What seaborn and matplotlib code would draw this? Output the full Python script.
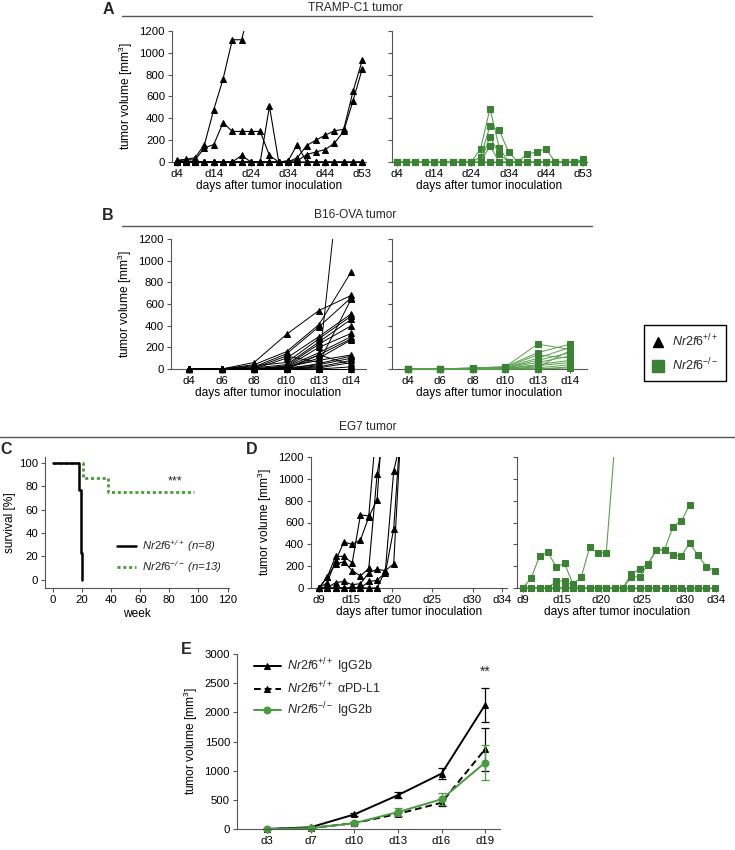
import matplotlib
matplotlib.use('Agg')
import numpy as np
import pandas as pd
import matplotlib.pyplot as plt
import seaborn as sns
from matplotlib.lines import Line2D
from matplotlib.patches import Rectangle

# ---- data ---------------------------------------------------------------
GREEN = '#3b8234'
GREEN_LINE = '#5a9e4f'

# A: TRAMP-C1, 21 measurement points d4..d53
tramp_ticks = ['d4', 'd14', 'd24', 'd34', 'd44', 'd53']
tramp_wt = [
    [15, 25, 40, 160, 480, 760, 1120, 1120, 1450],
    [10, 20, 20, 130, 160, 360, 280, 280, 280, 280, 60, 0],
    [0, 0, 0, 0, 0, 0, 0, 60, 0, 0, 510, 0, 0, 0, 0, 0, 0, 0, 0, 0, 0],
    [0, 0, 0, 0, 0, 0, 0, 0, 0, 0, 0, 0, 0, 40, 150, 200, 246, 286, 300, 646, 935],
    [0, 0, 0, 0, 0, 0, 0, 0, 0, 0, 0, 0, 10, 10, 68, 92, 114, 172, 283, 560, 855],
    [0, 0, 0, 0, 0, 0, 0, 0, 0, 0, 0, 0, 10, 160, 0, 0, 0, 0, 0, 0, 0],
    [0, 0, 0, 0, 0, 0, 0, 0, 0, 0, 0, 0, 0, 0, 0, 0, 0, 0, 0, 0, 0],
]
tramp_ko = [
    [0, 0, 0, 0, 0, 0, 0, 0, 0, 123, 489, 129, 0, 0, 0, 0, 0, 0, 0, 0, 0],
    [0, 0, 0, 0, 0, 0, 0, 0, 0, 46, 329, 289, 92, 0, 0, 0, 0, 0, 0, 0, 0],
    [0, 0, 0, 0, 0, 0, 0, 0, 0, 0, 231, 71, 0, 0, 0, 0, 0, 0, 0, 0, 0],
    [0, 0, 0, 0, 0, 0, 0, 0, 0, 0, 148, 0, 0, 0, 0, 0, 0, 0, 0, 0, 0],
    [0, 0, 0, 0, 0, 0, 0, 0, 0, 0, 0, 0, 0, 0, 74, 92, 120, 0, 0, 0, 25],
]

# B: B16-OVA, days d4 d6 d8 d10 d13 d14
b16_days = ['d4', 'd6', 'd8', 'd10', 'd13', 'd14']
b16_wt = [
    [0, 0, 60, 320, 540, 680],
    [0, 0, 40, 160, 410, 900],
    [0, 0, 20, 140, 390, 660],
    [0, 0, 10, 120, 60, 650],
    [0, 0, 0, 100, 300, 510],
    [0, 0, 30, 60, 280, 490],
    [0, 0, 10, 40, 250, 460],
    [0, 0, 0, 30, 230, 400],
    [0, 0, 0, 20, 200, 330],
    [0, 0, 0, 20, 150, 300],
    [0, 0, 0, 10, 130, 280],
    [0, 0, 0, 10, 100, 270],
    [0, 0, 0, 0, 30, 2800],
    [0, 0, 0, 20, 80, 130],
    [0, 0, 0, 0, 50, 120],
    [0, 0, 0, 10, 40, 100],
    [0, 0, 0, 0, 20, 80],
    [0, 0, 0, 0, 10, 60],
    [0, 0, 0, 0, 130, 40],
    [0, 0, 0, 0, 0, 20],
    [0, 0, 0, 0, 0, 0],
]
b16_ko = [
    [0, 0, 10, 20, 230, 180],
    [0, 0, 10, 20, 150, 230],
    [0, 0, 5, 15, 130, 100],
    [0, 0, 5, 10, 100, 200],
    [0, 0, 0, 10, 80, 150],
    [0, 0, 0, 10, 60, 120],
    [0, 0, 0, 5, 40, 80],
    [0, 0, 0, 5, 30, 60],
    [0, 0, 0, 0, 20, 170],
    [0, 0, 0, 0, 10, 40],
    [0, 0, 0, 0, 0, 20],
    [0, 0, 0, 0, 0, 10],
]

# C: survival (weeks, percent)
surv_wt_t = [0, 18, 19, 20]
surv_wt_p = [100, 77, 23, 0]
surv_ko_t = [0, 20.5, 38, 97]
surv_ko_p = [100, 87, 75, 75]

# D: EG7 tumours
eg7_ticks = ['d9', 'd15', 'd20', 'd25', 'd30', 'd34']
eg7_wt = [
    [0, 100, 290, 290, 230, 670, 660, 1560],
    [0, 50, 250, 420, 400, 440, 650, 810, 1900],
    [0, 100, 220, 240, 160, 110, 180, 1040, 1500],
    [0, 0, 50, 60, 30, 40, 140, 170, 160, 1070, 1400],
    [0, 0, 0, 0, 0, 0, 60, 70, 140, 540, 1650],
    [0, 0, 0, 0, 0, 0, 0, 0, 160, 220, 1620],
    [0, 0, 0, 0, 0, 0, 0, 0],
]
eg7_ko = [
    [0, 91, 292, 326, 195, 225, 37, 97, 371, 323, 323, 1300],
    [0, 0, 0, 0, 61, 67, 20, 0, 0, 0, 0, 0, 0, 0, 0, 0, 0, 0, 0, 0, 0, 0, 0, 0],
    [0, 0, 0, 0, 0, 0, 0, 0, 0, 0, 0, 0, 0, 128, 173, 219, 350, 350, 563, 615, 758],
    [0, 0, 0, 0, 0, 0, 0, 0, 0, 0, 0, 0, 0, 100, 105, 215, 345, 350, 300, 295, 410, 300, 195, 160],
]

# E: mean tumour volume +- SEM
e_days = ['d3', 'd7', 'd10', 'd13', 'd16', 'd19']
wt_igg = [0, 30, 250, 580, 950, 2130]
wt_igg_err = [0, 10, 20, 50, 100, 290]
wt_pdl1 = [0, 15, 100, 260, 450, 1370]
wt_pdl1_err = [0, 5, 15, 30, 60, 370]
ko_igg = [0, 15, 100, 290, 510, 1140]
ko_igg_err = [0, 5, 20, 70, 100, 300]

# ---- style --------------------------------------------------------------
sns.set_style('ticks')
plt.rcParams['font.family'] = ['Liberation Sans', 'DejaVu Sans']
plt.rcParams.update({
    'font.size': 8.6,
    'mathtext.fontset': 'custom',
    'mathtext.rm': 'Liberation Sans',
    'mathtext.it': 'Liberation Sans:italic',
    'mathtext.bf': 'Liberation Sans:bold',
    'mathtext.default': 'regular',
    'axes.edgecolor': '#555555',
    'axes.linewidth': 0.8,
    'axes.labelsize': 8.6,
    'xtick.color': '#555555',
    'ytick.color': '#555555',
    'xtick.labelcolor': 'black',
    'ytick.labelcolor': 'black',
    'axes.labelcolor': 'black',
})

TICK_FS = 8.2
W, H = 735, 850
fig = plt.figure(figsize=(W / 100, H / 100), dpi=100)
WT = r'$\mathit{Nr2f6}^{+/+}$'
KO = r'$\mathit{Nr2f6}^{-/-}$'
YLAB = 'tumor volume [mm$^3$]'
XLAB = 'days after tumor inoculation'


def add_axes(left, top, right, bottom):
    ax = fig.add_axes([left / W, 1 - bottom / H, (right - left) / W, (bottom - top) / H])
    sns.despine(ax=ax)
    ax.tick_params(length=3, width=0.8, labelsize=TICK_FS, pad=2)
    return ax


def spaghetti(ax, traces, marker, color, line_color, lw, ms):
    rows = [(m, i, v) for m, tr in enumerate(traces) for i, v in enumerate(tr)]
    df = pd.DataFrame(rows, columns=['mouse', 'idx', 'volume'])
    sns.lineplot(data=df, x='idx', y='volume', units='mouse', estimator=None,
                 color=line_color, lw=lw, marker=marker, markersize=ms,
                 markerfacecolor=color, markeredgecolor=color,
                 legend=False, ax=ax)
    for ln in ax.lines:
        # clip at the top of the axes only, so markers on y=0 stay whole
        ln.set_clip_path(Rectangle((-0.2, -0.3), 1.4, 1.3, transform=ax.transAxes))
        ln.set_zorder(3)
    ax.set_xlabel('')
    ax.set_ylabel('')


def fig_text(x, y, s, **kw):
    fig.text(x / W, 1 - y / H, s, ha='center', va='center', **kw)


def fig_hline(x0, x1, y):
    fig.add_artist(Line2D([x0 / W, x1 / W], [1 - y / H] * 2, transform=fig.transFigure,
                          color='#555555', lw=1))


# ---- A ------------------------------------------------------------------
fig_text(108, 10, 'A', fontsize=11.5, fontweight='bold')
fig_text(355, 8, 'TRAMP-C1 tumor')
fig_hline(122, 592, 16)
for k, (traces, mk, col, lcol) in enumerate([(tramp_wt, '^', 'black', 'black'),
                                             (tramp_ko, 's', GREEN, GREEN_LINE)]):
    ax = add_axes(172, 31, 366, 162) if k == 0 else add_axes(392, 31, 587, 162)
    spaghetti(ax, traces, mk, col, lcol, 0.8, 4.5 if mk == '^' else 4.3)
    ax.set_xlim(-0.5, 20.4)
    ax.set_ylim(0, 1200)
    ax.set_yticks(range(0, 1201, 200))
    ax.set_xticks(range(0, 21, 4), tramp_ticks)
    ax.set_xlabel(XLAB, labelpad=1)
    if k == 0:
        ax.set_ylabel(YLAB, labelpad=3)
    else:
        ax.tick_params(labelleft=False)

# ---- B ------------------------------------------------------------------
fig_text(108, 215, 'B', fontsize=11.5, fontweight='bold')
fig_text(355, 215, 'B16-OVA tumor')
fig_hline(122, 592, 226)
for k, (traces, mk, col, lcol) in enumerate([(b16_wt, '^', 'black', 'black'),
                                             (b16_ko, 's', GREEN, GREEN_LINE)]):
    ax = add_axes(171, 239, 366, 369) if k == 0 else add_axes(392, 239, 587, 369)
    spaghetti(ax, traces, mk, col, lcol, 0.7, 4.5 if mk == '^' else 4.5)
    ax.set_xlim(-0.56, 5.45) if k == 0 else ax.set_xlim(-0.49, 5.52)
    ax.set_ylim(0, 1200)
    ax.set_yticks(range(0, 1201, 200))
    ax.set_xticks(range(len(b16_days)), b16_days)
    ax.set_xlabel(XLAB, labelpad=1)
    if k == 0:
        ax.set_ylabel(YLAB, labelpad=3)
    else:
        ax.tick_params(labelleft=False)

fig.legend([Line2D([], [], ls='none', marker='^', color='black', ms=7),
            Line2D([], [], ls='none', marker='s', color=GREEN, ms=8)],
           [WT, KO], loc='upper left', bbox_to_anchor=(638 / W, 1 - 319 / H),
           frameon=True, fancybox=False, edgecolor='black', fontsize=9,
           handlelength=1.0, handletextpad=0.6, borderpad=0.6, labelspacing=0.6,
           framealpha=1)

# ---- C ------------------------------------------------------------------
fig_text(368, 427, 'EG7 tumor')
fig_hline(0, 735, 437)
fig_text(6, 450, 'C', fontsize=11.5, fontweight='bold')
ax = add_axes(45, 457, 229, 588)
ax.plot(surv_ko_t, surv_ko_p, drawstyle='steps-post', color='#4a9a3a', lw=2.0,
        ls=(0, (1.1, 1.0)), label=KO + ' (n=13)', clip_on=False, zorder=3)
ax.plot(surv_wt_t, surv_wt_p, drawstyle='steps-post', color='black', lw=1.8,
        label=WT + ' (n=8)', clip_on=False, zorder=4)
ax.set_xlim(-5.5, 121)
ax.set_ylim(-7, 105)
ax.set_xticks(range(0, 121, 20))
ax.set_yticks(range(0, 101, 20))
ax.set_xlabel('week', labelpad=2)
ax.set_ylabel('survival [%]', labelpad=2)
ax.text(84, 84, '***', ha='center', va='center', fontsize=9)
h, l = ax.get_legend_handles_labels()
ax.legend(h[::-1], l[::-1], loc='lower right', bbox_to_anchor=(1.02, 0.02), frameon=False,
          handlelength=1.6, handletextpad=0.6, labelspacing=0.5,
          prop={'style': 'italic', 'size': 8.2})

# ---- D ------------------------------------------------------------------
fig_text(252, 450, 'D', fontsize=11.5, fontweight='bold')
ax = add_axes(311, 457, 507, 588)
spaghetti(ax, eg7_wt, '^', 'black', 'black', 0.8, 4.5)
ax.set_xlim(-0.96, 22.65)
ax.set_ylim(0, 1200)
ax.set_yticks(range(0, 1201, 200))
ax.set_xticks([0, 3.8, 8.8, 13.6, 18.5, 22], eg7_ticks)
ax.set_ylabel(YLAB, labelpad=3)
ax.set_xlabel(XLAB, labelpad=1)

ax = add_axes(517, 457, 718, 588)
spaghetti(ax, eg7_ko, 's', GREEN, GREEN_LINE, 0.8, 4.3)
ax.set_xlim(-0.7, 23.4)
ax.set_ylim(0, 1200)
ax.set_yticks(range(0, 1201, 200))
ax.set_xticks([0, 4.75, 9.4, 14.3, 19.4, 23.2], eg7_ticks)
ax.tick_params(labelleft=False)
ax.set_xlabel(XLAB, labelpad=1)

# ---- E ------------------------------------------------------------------
fig_text(186, 650, 'E', fontsize=11.5, fontweight='bold')
ax = add_axes(237, 654, 500, 829)
xpos = np.arange(len(e_days))
groups = [
    (wt_igg, wt_igg_err, 'black', '^', '-', WT + ' IgG2b'),
    (wt_pdl1, wt_pdl1_err, 'black', '^', (0, (3.5, 2)), WT + r' $\alpha$PD-L1'),
    (ko_igg, ko_igg_err, '#4a9a3f', 'o', '-', KO + ' IgG2b'),
]
for vals, err, col, mk, ls, lab in groups:
    ax.errorbar(xpos, vals, yerr=err, fmt='none', ecolor=col, elinewidth=0.9,
                capsize=3, capthick=0.9, clip_on=False, zorder=2)
    sns.lineplot(x=xpos, y=vals, color=col, marker=mk, markersize=5, lw=1.4,
                 linestyle=ls, markeredgecolor=col, label=lab, ax=ax, clip_on=False)
ax.set_xlim(-0.69, 5.34)
ax.set_ylim(0, 3000)
ax.set_yticks(range(0, 3001, 500))
ax.set_xticks(xpos, e_days)
ax.set_ylabel(YLAB, labelpad=3)
ax.text(5, 2690, '**', ha='center', va='center', fontsize=10)
ax.legend(loc='upper left', bbox_to_anchor=(0.02, 1.05), frameon=False, fontsize=9,
          handlelength=2.2, handletextpad=0.5, labelspacing=0.3)

fig.savefig('out.png', dpi=100)
